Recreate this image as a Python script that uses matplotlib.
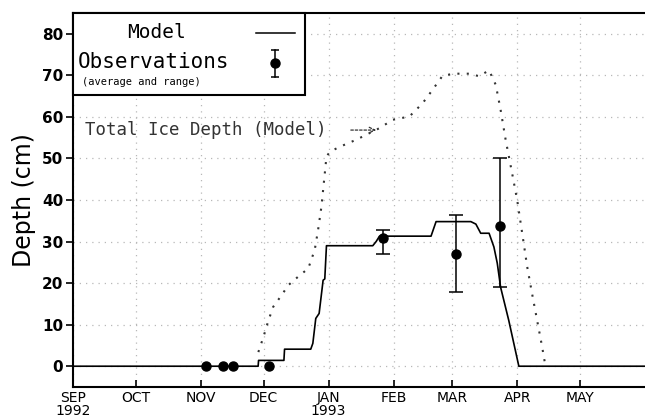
import matplotlib
matplotlib.use("Agg")
import matplotlib.pyplot as plt
from matplotlib.patches import Rectangle

# days since 1 Sep 1992
month_days = [0, 30, 61, 91, 122, 153, 181, 212, 242]
month_labels = ["SEP\n1992", "OCT", "NOV", "DEC", "JAN\n1993", "FEB", "MAR", "APR", "MAY"]

# modelled snow/ice depth (solid)
model_day = [0, 88.4, 88.6, 100.7, 101.0, 113.5, 114.5, 115.9, 117.5, 119.0, 119.4,
             120.2, 121.0, 143.1, 144.7, 146.3, 170.9, 173.3, 189.9, 192.3, 194.6,
             198.6, 200.9, 202.5, 204.1, 208.0, 212.8, 273]
model_depth = [0, 0, 1.4, 1.4, 4.1, 4.1, 5.5, 11.5, 12.7, 19.0, 20.7,
               21.0, 29.0, 29.0, 30.0, 31.3, 31.3, 34.8, 34.8, 34.2, 32.0,
               32.0, 28.7, 24.8, 19.0, 11.0, 0, 0]

# total ice depth (dotted)
total_day = [88.5, 90.9, 93.3, 95.6, 99.6, 102.8, 108.3, 112.3, 115.4, 117.0, 118.6,
             120.2, 121.0, 122.6, 127.3, 135.2, 146.3, 152.6, 160.6, 166.9, 171.6,
             176.4, 181.9, 189.0, 193.8, 198.6, 201.8, 204.1, 206.5, 209.6, 212.0,
             214.4, 216.8, 219.1, 221.5, 223.9, 225.5]
total_depth = [3.4, 7.0, 11.0, 14.3, 17.1, 19.5, 21.9, 23.5, 28.0, 32.8, 38.4,
               46.4, 50.4, 51.6, 52.8, 54.5, 57.3, 59.3, 60.1, 63.3, 66.5,
               69.9, 70.4, 70.4, 69.8, 71.2, 67.7, 61.7, 54.5, 46.4, 40.0,
               32.0, 23.9, 17.5, 11.1, 4.7, 0.0]

# observations (average and range)
obs_day = [63.5, 71.4, 76.6, 93.7, 148.2, 183.0, 203.7]
obs_mean = [0, 0, 0, 0, 30.9, 26.9, 33.8]
obs_low = [0, 0, 0, 0, 26.9, 17.9, 19.1]
obs_high = [0, 0, 0, 0, 32.9, 36.4, 50.0]

mono = "DejaVu Sans Mono"
narrow = ["Liberation Sans Narrow", "DejaVu Sans"]

fig = plt.figure(figsize=(6.45, 4.2), dpi=100)
ax = fig.add_axes([0.113, 0.0786, 0.887, 0.8904])

ax.plot(model_day, model_depth, color="black", lw=1.2, zorder=3)
ax.plot(total_day, total_depth, color="#333333", lw=1.5, linestyle=(0, (1, 3.5)), zorder=3)

# points with a range get error bars, single values only a dot
for d, m, lo, hi in zip(obs_day, obs_mean, obs_low, obs_high):
    if hi > lo:
        ax.errorbar([d], [m], yerr=[[m - lo], [hi - m]], fmt="o", color="black",
                    ms=6.5, elinewidth=1.1, capsize=5, capthick=1.1, zorder=4)
    else:
        ax.plot([d], [m], "o", color="black", ms=6.5, zorder=4)

ax.set_xlim(0, 273)
ax.set_ylim(-5, 85)
ax.set_xticks(month_days)
ax.set_xticklabels(month_labels, family=narrow, fontsize=10, linespacing=0.85)
ax.set_yticks(range(0, 81, 10))
ax.set_yticklabels([str(v) for v in range(0, 81, 10)], family=narrow, fontsize=11, weight="bold")
ax.tick_params(axis="x", direction="in", length=5, width=1.2, pad=3)
ax.tick_params(axis="y", direction="out", length=5, width=1.2, pad=2)
ax.grid(True, color="#b8b8b8", linestyle=(0, (1, 4)), lw=0.9)
ax.set_axisbelow(True)

for s in ["left", "bottom", "top"]:
    ax.spines[s].set_linewidth(1.5)
ax.spines["right"].set_visible(False)

ax.set_ylabel("Depth (cm)", fontsize=17, family="DejaVu Sans", labelpad=4)

# legend box
ax.add_patch(Rectangle((0, 0.781), 0.406, 0.219, transform=ax.transAxes,
                       facecolor="white", edgecolor="black", lw=1.5, zorder=6, clip_on=False))
ax.text(0.147, 0.947, "Model", transform=ax.transAxes, family=mono, fontsize=14,
        ha="center", va="center", zorder=7)
ax.plot([0.32, 0.388], [0.947, 0.947], transform=ax.transAxes, color="black", lw=1.1, zorder=7)
ax.text(0.009, 0.869, "Observations", transform=ax.transAxes, family=mono, fontsize=15,
        ha="left", va="center", zorder=7)
ax.text(0.016, 0.816, "(average and range)", transform=ax.transAxes, family=mono, fontsize=7.5,
        ha="left", va="center", zorder=7)
ax.plot([0.353, 0.353], [0.829, 0.901], transform=ax.transAxes, color="black", lw=1.1, zorder=7)
ax.plot([0.353, 0.353], [0.829, 0.901], transform=ax.transAxes, color="black", lw=0,
        marker="_", ms=6, mew=1.1, zorder=7)
ax.plot([0.353], [0.866], transform=ax.transAxes, color="black", marker="o", ms=6.5, zorder=8)

# annotation
ax.text(0.021, 0.687, "Total Ice Depth (Model)", transform=ax.transAxes, family=mono,
        fontsize=12.5, color="#333333", ha="left", va="center")
ax.annotate("", xy=(0.535, 0.687), xytext=(0.481, 0.687), xycoords="axes fraction",
            arrowprops=dict(arrowstyle="->", linestyle=(0, (2, 1.5)), color="#333333", lw=0.9))

fig.savefig("out.png", dpi=100)
